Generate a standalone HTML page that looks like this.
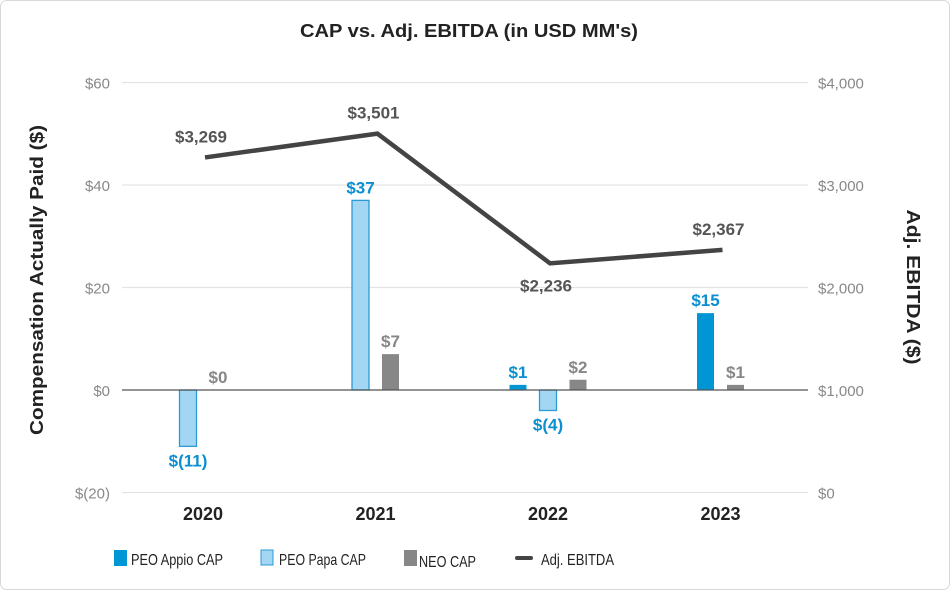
<!DOCTYPE html>
<html><head><meta charset="utf-8"><style>
html,body{margin:0;padding:0;background:#fff;}
svg{display:block;font-family:"Liberation Sans",sans-serif;}
</style></head><body>
<svg id="chart" width="950" height="590">
<rect x="0.5" y="0.5" width="949" height="589" rx="6" fill="#fff" stroke="#d9d9d9"/>
<text x="469" y="37" text-anchor="middle" font-size="18" font-weight="bold" fill="#222" textLength="338" lengthAdjust="spacingAndGlyphs">CAP vs. Adj. EBITDA (in USD MM's)</text>
<text transform="translate(43,280) rotate(-90)" text-anchor="middle" font-size="18" font-weight="bold" fill="#222" textLength="310" lengthAdjust="spacingAndGlyphs">Compensation Actually Paid ($)</text>
<text transform="translate(907,287) rotate(90)" text-anchor="middle" font-size="18" font-weight="bold" fill="#222" textLength="155" lengthAdjust="spacingAndGlyphs">Adj. EBITDA ($)</text>
<g id="grid"></g><g id="bars"></g><g id="line"></g><g id="labels"></g>
<g id="legend" font-size="16" fill="#222">
<rect x="114" y="550" width="13" height="16" fill="#0096d6"/>
<text x="131" y="565" textLength="92" lengthAdjust="spacingAndGlyphs">PEO Appio CAP</text>
<rect x="261" y="550" width="12" height="15" fill="#a3d6f3" stroke="#2a9ad6"/>
<text x="279" y="565" textLength="87" lengthAdjust="spacingAndGlyphs">PEO Papa CAP</text>
<rect x="404" y="550" width="13" height="16" fill="#878787"/>
<text x="419" y="567" textLength="57" lengthAdjust="spacingAndGlyphs">NEO CAP</text>
<rect x="515" y="556" width="18" height="4" rx="2" fill="#444"/>
<text x="541" y="565" textLength="73" lengthAdjust="spacingAndGlyphs">Adj. EBITDA</text>
</g>
</svg>
<script>
const categories=["2020","2021","2022","2023"];
const appio=[null,null,1,15];
const papa=[-11,37,-4,null];
const neo=[0,7,2,1];
const ebitda=[3269,3501,2236,2367];
const leftTicks=[-20,0,20,40,60];
const leftTickLabels=["$(20)","$0","$20","$40","$60"];
const rightTicks=[0,1000,2000,3000,4000];
const rightTickLabels=["$0","$1,000","$2,000","$3,000","$4,000"];
const appioLabels=[null,null,"$1","$15"];
const papaLabels=["$(11)","$37","$(4)",null];
const neoLabels=["$0","$7","$2","$1"];
const ebitdaLabels=["$3,269","$3,501","$2,236","$2,367"];

const NS="http://www.w3.org/2000/svg";
const X0=122,X1=808;
const yL=v=>390-v*(102.5/20);
const yR=v=>492.5-v*(410/4000);
const xC=i=>203+i*172.5;
function mk(tag,attrs,parent,text){const e=document.createElementNS(NS,tag);for(const k in attrs)e.setAttribute(k,attrs[k]);if(text!=null)e.textContent=text;document.getElementById(parent).appendChild(e);return e;}

leftTicks.forEach((t,i)=>{
  if(t!==0){const g=mk("line",{x1:X0,x2:X1,y1:yL(t),y2:yL(t),stroke:"#e3e3e3","stroke-width":1.3},"grid");
  
  }
  const l=mk("text",{x:110,y:yL(t)+6,"text-anchor":"end","font-size":15,fill:"#888"},"grid",leftTickLabels[i]);
  
  
});
rightTicks.forEach((t,i)=>{
  const l=mk("text",{x:818,y:yR(t)+6,"font-size":15,fill:"#888"},"grid",rightTickLabels[i]);
  
  
});
categories.forEach((c,i)=>{
  const l=mk("text",{x:xC(i),y:520,"text-anchor":"middle","font-size":18,"font-weight":"bold",fill:"#222"},"labels",c);
  
  
});

const series=[
 {vals:appio,labs:appioLabels,fill:"#0096d6",stroke:"none",lc:"#0a8fd0",name:"bar-appio"},
 {vals:papa,labs:papaLabels,fill:"#a3d6f3",stroke:"#2a9ad6",lc:"#0a8fd0",name:"bar-papa"},
 {vals:neo,labs:neoLabels,fill:"#878787",stroke:"none",lc:"#878787",name:"bar-neo"}];
const W=17,S=30;
categories.forEach((c,i)=>{
  const present=series.filter(s=>s.vals[i]!=null);
  present.forEach((s,k)=>{
    const cx=xC(i)+(k-(present.length-1)/2)*S;
    const v=s.vals[i];
    const y1=yL(Math.max(v,0)),y2=yL(Math.min(v,0));
    const b=mk("rect",{x:cx-W/2,y:y1,width:W,height:Math.max(y2-y1,0.01),fill:s.fill,stroke:s.stroke,"stroke-width":1.3},"bars");
    
    
    const ly=v<0?y2+20:y1-7;
    const t=mk("text",{x:cx,y:ly,"text-anchor":"middle","font-size":17,"font-weight":"bold",fill:s.lc},"labels",s.labs[i]);
    
    
  });
});
const z=mk("line",{x1:X0,x2:X1,y1:yL(0),y2:yL(0),stroke:"#555","stroke-width":1.3},"bars");



const pts=ebitda.map((v,i)=>(xC(i)+2)+","+yR(v)).join(" ");
const pl=mk("polyline",{points:pts,fill:"none",stroke:"#444","stroke-width":4.5,"stroke-linejoin":"miter"},"line");


ebitda.forEach((v,i)=>{
  const below=i>0&&i<ebitda.length-1&&ebitda[i]<ebitda[i-1]&&ebitda[i]<ebitda[i+1];
  const t=mk("text",{x:xC(i)-2,y:below?yR(v)+28:yR(v)-15,"text-anchor":"middle","font-size":17,"font-weight":"bold",fill:"#555"},"labels",ebitdaLabels[i]);
  
  
});
</script>
</body></html>
